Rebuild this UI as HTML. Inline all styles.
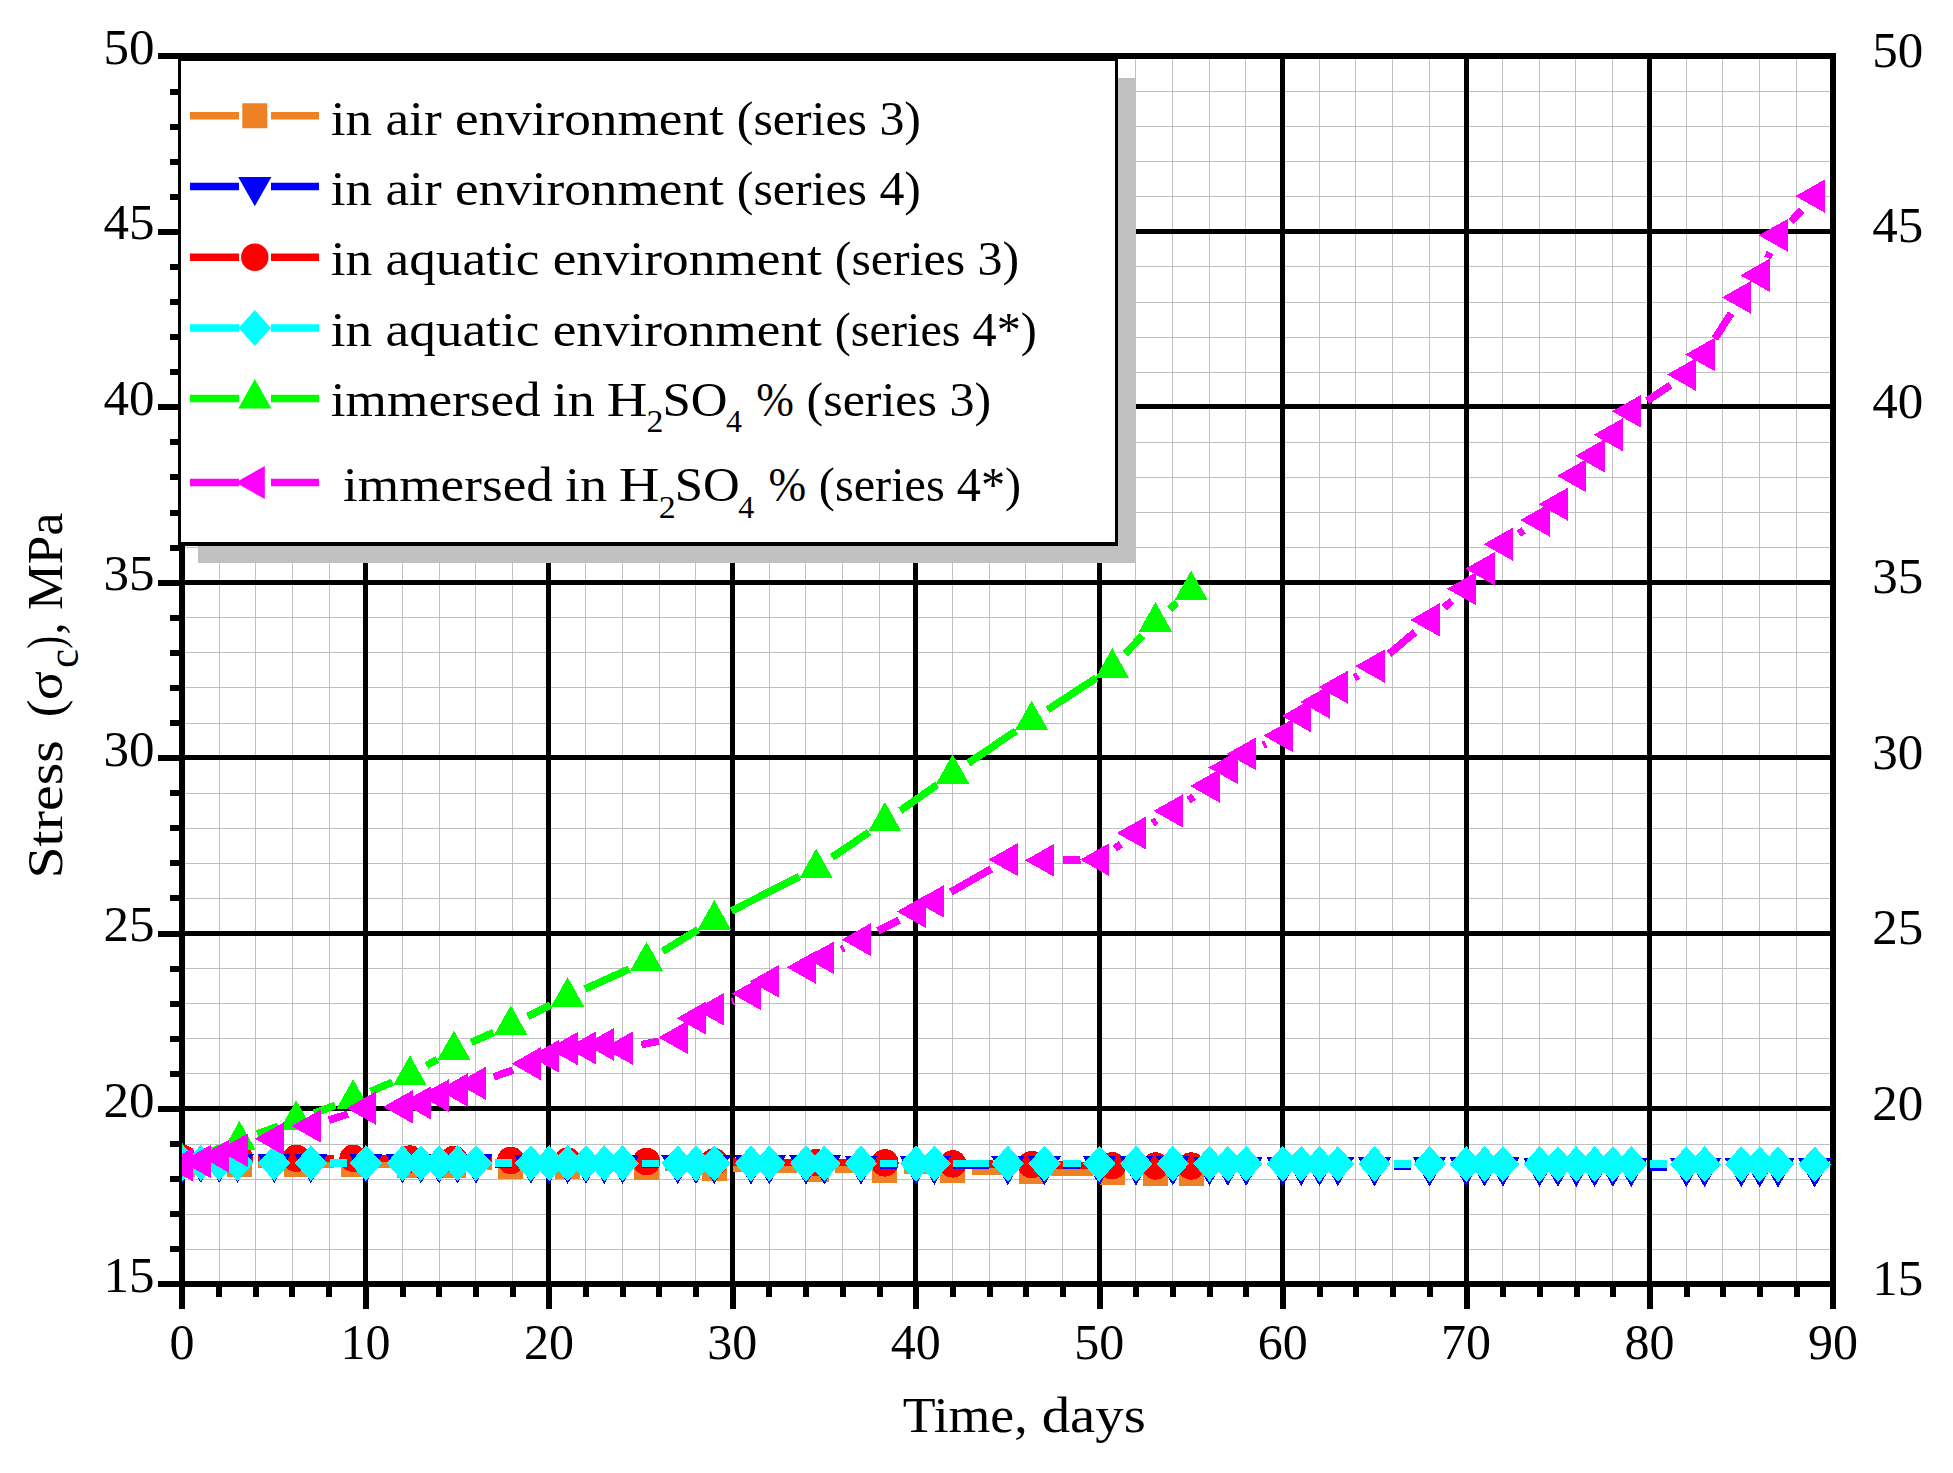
<!DOCTYPE html><html><head><meta charset="utf-8"><title>Stress vs time</title>
<style>html,body{margin:0;padding:0;background:#fff}svg{display:block}text{font-family:"Liberation Serif",serif;fill:#000}</style></head><body>
<svg width="1953" height="1473" viewBox="0 0 1953 1473">
<rect width="1953" height="1473" fill="#fff"/>
<path d="M219.5 56V1284M255.5 56V1284M292.5 56V1284M329.5 56V1284M402.5 56V1284M439.5 56V1284M475.5 56V1284M512.5 56V1284M585.5 56V1284M622.5 56V1284M659.5 56V1284M695.5 56V1284M769.5 56V1284M805.5 56V1284M842.5 56V1284M879.5 56V1284M952.5 56V1284M989.5 56V1284M1025.5 56V1284M1062.5 56V1284M1135.5 56V1284M1172.5 56V1284M1209.5 56V1284M1245.5 56V1284M1319.5 56V1284M1355.5 56V1284M1392.5 56V1284M1429.5 56V1284M1502.5 56V1284M1539.5 56V1284M1575.5 56V1284M1612.5 56V1284M1686.5 56V1284M1722.5 56V1284M1759.5 56V1284M1796.5 56V1284M182 1249.5H1833M182 1214.5H1833M182 1179.5H1833M182 1144.5H1833M182 1073.5H1833M182 1038.5H1833M182 1003.5H1833M182 968.5H1833M182 898.5H1833M182 863.5H1833M182 828.5H1833M182 793.5H1833M182 723.5H1833M182 687.5H1833M182 652.5H1833M182 617.5H1833M182 547.5H1833M182 512.5H1833M182 477.5H1833M182 442.5H1833M182 372.5H1833M182 337.5H1833M182 302.5H1833M182 266.5H1833M182 196.5H1833M182 161.5H1833M182 126.5H1833M182 91.5H1833" stroke="#c0c0c0" stroke-width="1" fill="none"/>
<path d="M365.5 56V1284M548.5 56V1284M732.5 56V1284M915.5 56V1284M1099.5 56V1284M1282.5 56V1284M1466.5 56V1284M1649.5 56V1284M182 1108.5H1833M182 933.5H1833M182 757.5H1833M182 582.5H1833M182 406.5H1833M182 231.5H1833" stroke="#000" stroke-width="5" fill="none"/>
<path d="M182 56H1833V1284H182Z" stroke="#000" stroke-width="6" fill="none" stroke-linejoin="miter"/>
<path d="M158 1284H182M170 1249H182M170 1214H182M170 1179H182M170 1144H182M158 1109H182M170 1074H182M170 1039H182M170 1004H182M170 969H182M158 934H182M170 898H182M170 863H182M170 828H182M170 793H182M158 758H182M170 723H182M170 688H182M170 653H182M170 618H182M158 583H182M170 548H182M170 513H182M170 477H182M170 442H182M158 407H182M170 372H182M170 337H182M170 302H182M170 267H182M158 232H182M170 197H182M170 162H182M170 127H182M170 92H182M158 56H182M182 1284V1309M219 1284V1297M256 1284V1297M292 1284V1297M329 1284V1297M366 1284V1309M403 1284V1297M439 1284V1297M476 1284V1297M513 1284V1297M549 1284V1309M586 1284V1297M623 1284V1297M659 1284V1297M696 1284V1297M733 1284V1309M769 1284V1297M806 1284V1297M843 1284V1297M880 1284V1297M916 1284V1309M953 1284V1297M990 1284V1297M1026 1284V1297M1063 1284V1297M1100 1284V1309M1136 1284V1297M1173 1284V1297M1210 1284V1297M1246 1284V1297M1283 1284V1309M1320 1284V1297M1356 1284V1297M1393 1284V1297M1430 1284V1297M1467 1284V1309M1503 1284V1297M1540 1284V1297M1577 1284V1297M1613 1284V1297M1650 1284V1309M1687 1284V1297M1723 1284V1297M1760 1284V1297M1797 1284V1297M1833 1284V1309" stroke="#000" stroke-width="6" fill="none"/>
<clipPath id="c"><rect x="182" y="53" width="1654" height="1234"/></clipPath>
<g clip-path="url(#c)" shape-rendering="crispEdges">
<path d="M201.5 1164.3L220.4 1164.3M258.4 1164.4L277.2 1164.5M315.2 1164.5L334.1 1164.4M372.1 1164.5L390.9 1164.7M428.9 1165.1L434.9 1165.2M472.9 1165.6L491.8 1165.8M529.8 1166.1L548.6 1166.3M586.6 1166.5L627.5 1166.9M665.5 1167.4L695.3 1167.8M733.3 1168.3L797.1 1169.0M835.1 1169.5L865.9 1169.9M903.9 1170.4L933.7 1170.7M971.7 1171.1L1012.6 1171.5M1050.6 1171.9L1093.3 1172.4M1131.3 1172.8L1136.4 1172.9" stroke="#ee8026" stroke-width="7.5" fill="none"/>
<path d="M170.0 1151.8h25v25h-25zM226.9 1151.8h25v25h-25zM283.7 1152.1h25v25h-25zM340.6 1151.8h25v25h-25zM397.4 1152.5h25v25h-25zM441.4 1152.8h25v25h-25zM498.3 1153.5h25v25h-25zM555.1 1153.9h25v25h-25zM634.0 1154.6h25v25h-25zM701.8 1155.6h25v25h-25zM803.6 1156.7h25v25h-25zM872.4 1157.7h25v25h-25zM940.2 1158.4h25v25h-25zM1019.1 1159.1h25v25h-25zM1099.8 1160.2h25v25h-25zM1142.9 1160.5h25v25h-25zM1178.6 1160.9h25v25h-25z" fill="#ee8026"/>
<path d="M201.5 1158.3L220.4 1158.3M258.4 1158.3L277.2 1158.3M315.2 1158.3L334.1 1158.3M372.1 1158.5L390.9 1158.8M428.9 1159.2L434.9 1159.2M472.9 1159.7L491.8 1160.1M529.8 1160.6L548.6 1160.9M586.6 1161.2L627.5 1161.4M665.5 1161.6L695.3 1161.7M733.3 1161.9L797.1 1162.4M835.1 1162.6L865.9 1162.8M903.9 1163.2L933.7 1163.6M971.7 1164.1L1012.6 1164.4M1050.6 1164.9L1093.3 1165.4M1131.3 1165.8L1136.4 1165.9" stroke="#ff0000" stroke-width="7.5" fill="none"/>
<path d="M168.8 1158.3a13.7 13.7 0 1 0 27.4 0a13.7 13.7 0 1 0 -27.4 0zM225.7 1158.3a13.7 13.7 0 1 0 27.4 0a13.7 13.7 0 1 0 -27.4 0zM282.5 1158.3a13.7 13.7 0 1 0 27.4 0a13.7 13.7 0 1 0 -27.4 0zM339.4 1158.3a13.7 13.7 0 1 0 27.4 0a13.7 13.7 0 1 0 -27.4 0zM396.2 1159.0a13.7 13.7 0 1 0 27.4 0a13.7 13.7 0 1 0 -27.4 0zM440.2 1159.4a13.7 13.7 0 1 0 27.4 0a13.7 13.7 0 1 0 -27.4 0zM497.1 1160.4a13.7 13.7 0 1 0 27.4 0a13.7 13.7 0 1 0 -27.4 0zM553.9 1161.1a13.7 13.7 0 1 0 27.4 0a13.7 13.7 0 1 0 -27.4 0zM632.8 1161.5a13.7 13.7 0 1 0 27.4 0a13.7 13.7 0 1 0 -27.4 0zM700.6 1161.8a13.7 13.7 0 1 0 27.4 0a13.7 13.7 0 1 0 -27.4 0zM802.4 1162.5a13.7 13.7 0 1 0 27.4 0a13.7 13.7 0 1 0 -27.4 0zM871.2 1162.9a13.7 13.7 0 1 0 27.4 0a13.7 13.7 0 1 0 -27.4 0zM939.0 1163.9a13.7 13.7 0 1 0 27.4 0a13.7 13.7 0 1 0 -27.4 0zM1017.9 1164.6a13.7 13.7 0 1 0 27.4 0a13.7 13.7 0 1 0 -27.4 0zM1098.6 1165.7a13.7 13.7 0 1 0 27.4 0a13.7 13.7 0 1 0 -27.4 0zM1141.7 1166.0a13.7 13.7 0 1 0 27.4 0a13.7 13.7 0 1 0 -27.4 0zM1177.4 1166.0a13.7 13.7 0 1 0 27.4 0a13.7 13.7 0 1 0 -27.4 0z" fill="#ff0000"/>
<path d="M200.2 1155.9L221.7 1147.4M257.2 1133.9L278.3 1126.2M314.0 1113.2L335.2 1105.3M370.6 1091.4L392.4 1082.2M426.4 1065.5L437.4 1059.3M471.3 1042.3L493.4 1032.5M527.8 1016.3L550.6 1005.1M585.0 988.9L629.1 969.1M662.7 951.4L698.1 929.5M731.3 911.0L799.2 876.6M831.8 857.4L869.2 832.1M900.4 810.5L937.2 784.7M968.4 763.1L1015.9 730.8M1047.5 709.8L1096.4 677.9M1125.3 653.7L1142.4 635.5M1169.6 609.1L1176.9 602.7" stroke="#00ff00" stroke-width="7.5" fill="none"/>
<path d="M165.9 1172.9h33.2L182.5 1143.4zM222.8 1150.4h33.2L239.4 1120.9zM279.6 1129.7h33.2L296.2 1100.2zM336.5 1108.7h33.2L353.1 1079.2zM393.3 1084.9h33.2L409.9 1055.4zM437.3 1060.0h33.2L453.9 1030.5zM494.2 1034.8h33.2L510.8 1005.3zM551.0 1006.7h33.2L567.6 977.2zM629.9 971.3h33.2L646.5 941.8zM697.7 929.6h33.2L714.3 900.1zM799.5 878.1h33.2L816.1 848.6zM868.3 831.4h33.2L884.9 801.9zM936.1 783.8h33.2L952.7 754.3zM1015.0 730.1h33.2L1031.6 700.6zM1095.7 677.6h33.2L1112.3 648.1zM1138.8 631.6h33.2L1155.4 602.1zM1174.5 600.1h33.2L1191.1 570.6z" fill="#00ff00"/>
<path d="M329.9 1163.5L346.9 1163.5M494.9 1164.0L511.9 1164.0M641.6 1164.4L658.7 1164.4M880.0 1165.1L897.1 1165.1M953.4 1165.3L988.8 1165.4M1063.4 1165.6L1080.5 1165.7M1393.5 1166.6L1410.6 1166.6M1650.3 1167.3L1667.3 1167.4" stroke="#0000ff" stroke-width="7.5" fill="none"/>
<path d="M165.9 1153.5h33.2L182.5 1182.8zM184.2 1153.6h33.2L200.8 1182.9zM202.6 1153.6h33.2L219.2 1182.9zM220.9 1153.7h33.2L237.5 1183.0zM257.6 1153.8h33.2L274.2 1183.1zM294.3 1153.9h33.2L310.9 1183.2zM349.3 1154.1h33.2L365.9 1183.4zM386.0 1154.2h33.2L402.6 1183.5zM404.3 1154.2h33.2L420.9 1183.5zM422.6 1154.3h33.2L439.2 1183.6zM441.0 1154.3h33.2L457.6 1183.6zM459.3 1154.4h33.2L475.9 1183.7zM514.3 1154.6h33.2L530.9 1183.9zM532.7 1154.6h33.2L549.3 1183.9zM551.0 1154.7h33.2L567.6 1184.0zM569.4 1154.7h33.2L586.0 1184.0zM587.7 1154.8h33.2L604.3 1184.1zM606.0 1154.8h33.2L622.6 1184.1zM661.1 1155.0h33.2L677.7 1184.3zM679.4 1155.0h33.2L696.0 1184.3zM697.7 1155.1h33.2L714.3 1184.4zM734.4 1155.2h33.2L751.0 1184.5zM752.7 1155.3h33.2L769.3 1184.6zM789.4 1155.4h33.2L806.0 1184.7zM807.8 1155.4h33.2L824.4 1184.7zM844.4 1155.5h33.2L861.0 1184.8zM899.5 1155.7h33.2L916.1 1185.0zM917.8 1155.7h33.2L934.4 1185.0zM991.2 1156.0h33.2L1007.8 1185.3zM1027.8 1156.1h33.2L1044.4 1185.4zM1082.8 1156.2h33.2L1099.4 1185.5zM1119.5 1156.3h33.2L1136.1 1185.6zM1156.2 1156.4h33.2L1172.8 1185.7zM1192.9 1156.5h33.2L1209.5 1185.8zM1211.2 1156.6h33.2L1227.8 1185.9zM1229.6 1156.6h33.2L1246.2 1185.9zM1266.2 1156.8h33.2L1282.8 1186.1zM1284.6 1156.8h33.2L1301.2 1186.1zM1302.9 1156.9h33.2L1319.5 1186.2zM1321.3 1156.9h33.2L1337.9 1186.2zM1357.9 1157.0h33.2L1374.5 1186.3zM1413.0 1157.2h33.2L1429.6 1186.5zM1449.6 1157.3h33.2L1466.2 1186.6zM1468.0 1157.3h33.2L1484.6 1186.6zM1486.3 1157.4h33.2L1502.9 1186.7zM1523.0 1157.5h33.2L1539.6 1186.8zM1541.3 1157.6h33.2L1557.9 1186.9zM1559.7 1157.6h33.2L1576.3 1186.9zM1578.0 1157.7h33.2L1594.6 1187.0zM1596.3 1157.7h33.2L1612.9 1187.0zM1614.7 1157.8h33.2L1631.3 1187.1zM1669.7 1157.9h33.2L1686.3 1187.2zM1688.0 1158.0h33.2L1704.6 1187.3zM1724.7 1158.1h33.2L1741.3 1187.4zM1743.1 1158.2h33.2L1759.7 1187.5zM1761.4 1158.2h33.2L1778.0 1187.5zM1798.1 1158.3h33.2L1814.7 1187.6z" fill="#0000ff"/>
<path d="M329.9 1163.0L346.9 1163.0M494.9 1163.1L511.9 1163.1M641.6 1163.3L658.7 1163.3M880.0 1163.5L897.1 1163.5M953.4 1163.5L988.8 1163.6M1063.4 1163.6L1080.5 1163.6M1393.5 1163.9L1410.6 1163.9M1650.3 1164.1L1667.3 1164.1" stroke="#00ffff" stroke-width="7.5" fill="none"/>
<path d="M182.5 1144.9L198.7 1162.9L182.5 1180.9L166.3 1162.9zM200.8 1144.9L217.0 1162.9L200.8 1180.9L184.6 1162.9zM219.2 1144.9L235.4 1162.9L219.2 1180.9L203.0 1162.9zM237.5 1144.9L253.7 1162.9L237.5 1180.9L221.3 1162.9zM274.2 1144.9L290.4 1162.9L274.2 1180.9L258.0 1162.9zM310.9 1145.0L327.1 1163.0L310.9 1181.0L294.7 1163.0zM365.9 1145.0L382.1 1163.0L365.9 1181.0L349.7 1163.0zM402.6 1145.1L418.8 1163.1L402.6 1181.1L386.4 1163.1zM420.9 1145.1L437.1 1163.1L420.9 1181.1L404.7 1163.1zM439.2 1145.1L455.4 1163.1L439.2 1181.1L423.0 1163.1zM457.6 1145.1L473.8 1163.1L457.6 1181.1L441.4 1163.1zM475.9 1145.1L492.1 1163.1L475.9 1181.1L459.7 1163.1zM530.9 1145.2L547.1 1163.2L530.9 1181.2L514.7 1163.2zM549.3 1145.2L565.5 1163.2L549.3 1181.2L533.1 1163.2zM567.6 1145.2L583.8 1163.2L567.6 1181.2L551.4 1163.2zM586.0 1145.2L602.2 1163.2L586.0 1181.2L569.8 1163.2zM604.3 1145.2L620.5 1163.2L604.3 1181.2L588.1 1163.2zM622.6 1145.2L638.8 1163.2L622.6 1181.2L606.4 1163.2zM677.7 1145.3L693.9 1163.3L677.7 1181.3L661.5 1163.3zM696.0 1145.3L712.2 1163.3L696.0 1181.3L679.8 1163.3zM714.3 1145.3L730.5 1163.3L714.3 1181.3L698.1 1163.3zM751.0 1145.4L767.2 1163.4L751.0 1181.4L734.8 1163.4zM769.3 1145.4L785.5 1163.4L769.3 1181.4L753.1 1163.4zM806.0 1145.4L822.2 1163.4L806.0 1181.4L789.8 1163.4zM824.4 1145.4L840.6 1163.4L824.4 1181.4L808.2 1163.4zM861.0 1145.4L877.2 1163.4L861.0 1181.4L844.8 1163.4zM916.1 1145.5L932.3 1163.5L916.1 1181.5L899.9 1163.5zM934.4 1145.5L950.6 1163.5L934.4 1181.5L918.2 1163.5zM1007.8 1145.6L1024.0 1163.6L1007.8 1181.6L991.6 1163.6zM1044.4 1145.6L1060.6 1163.6L1044.4 1181.6L1028.2 1163.6zM1099.4 1145.7L1115.6 1163.7L1099.4 1181.7L1083.2 1163.7zM1136.1 1145.7L1152.3 1163.7L1136.1 1181.7L1119.9 1163.7zM1172.8 1145.7L1189.0 1163.7L1172.8 1181.7L1156.6 1163.7zM1209.5 1145.7L1225.7 1163.7L1209.5 1181.7L1193.3 1163.7zM1227.8 1145.8L1244.0 1163.8L1227.8 1181.8L1211.6 1163.8zM1246.2 1145.8L1262.4 1163.8L1246.2 1181.8L1230.0 1163.8zM1282.8 1145.8L1299.0 1163.8L1282.8 1181.8L1266.6 1163.8zM1301.2 1145.8L1317.4 1163.8L1301.2 1181.8L1285.0 1163.8zM1319.5 1145.8L1335.7 1163.8L1319.5 1181.8L1303.3 1163.8zM1337.9 1145.9L1354.1 1163.9L1337.9 1181.9L1321.7 1163.9zM1374.5 1145.9L1390.7 1163.9L1374.5 1181.9L1358.3 1163.9zM1429.6 1145.9L1445.8 1163.9L1429.6 1181.9L1413.4 1163.9zM1466.2 1146.0L1482.4 1164.0L1466.2 1182.0L1450.0 1164.0zM1484.6 1146.0L1500.8 1164.0L1484.6 1182.0L1468.4 1164.0zM1502.9 1146.0L1519.1 1164.0L1502.9 1182.0L1486.7 1164.0zM1539.6 1146.0L1555.8 1164.0L1539.6 1182.0L1523.4 1164.0zM1557.9 1146.0L1574.1 1164.0L1557.9 1182.0L1541.7 1164.0zM1576.3 1146.1L1592.5 1164.1L1576.3 1182.1L1560.1 1164.1zM1594.6 1146.1L1610.8 1164.1L1594.6 1182.1L1578.4 1164.1zM1612.9 1146.1L1629.1 1164.1L1612.9 1182.1L1596.7 1164.1zM1631.3 1146.1L1647.5 1164.1L1631.3 1182.1L1615.1 1164.1zM1686.3 1146.2L1702.5 1164.2L1686.3 1182.2L1670.1 1164.2zM1704.6 1146.2L1720.8 1164.2L1704.6 1182.2L1688.4 1164.2zM1741.3 1146.2L1757.5 1164.2L1741.3 1182.2L1725.1 1164.2zM1759.7 1146.2L1775.9 1164.2L1759.7 1182.2L1743.5 1164.2zM1778.0 1146.2L1794.2 1164.2L1778.0 1182.2L1761.8 1164.2zM1814.7 1146.3L1830.9 1164.3L1814.7 1182.3L1798.5 1164.3z" fill="#00ffff"/>
<path d="M328.9 1120.2L347.8 1114.1M493.8 1076.9L513.0 1070.0M641.3 1044.6L659.0 1041.1M731.8 1001.8L733.6 1001.1M841.4 949.3L844.0 948.0M878.0 930.9L899.1 920.2M950.9 892.0L991.2 869.0M1063.4 860.1L1080.5 859.9M1114.8 848.5L1120.8 844.2M1152.4 823.2L1156.5 820.7M1188.5 800.3L1193.8 796.7M1263.2 745.3L1265.8 744.0M1354.3 677.7L1358.1 675.6M1389.1 653.9L1415.0 632.1M1444.0 607.6L1451.8 601.0M1518.8 533.7L1523.7 530.4M1647.1 400.7L1670.5 385.1M1714.9 338.5L1731.1 313.4M1767.6 258.0L1770.1 252.6M1791.0 221.5L1801.7 210.0" stroke="#ff00ff" stroke-width="7.5" fill="none"/>
<path d="M192.5 1148.0v33.2L163.2 1164.6zM210.8 1144.9v33.2L181.5 1161.5zM229.2 1139.6v33.2L199.9 1156.2zM247.5 1133.6v33.2L218.2 1150.2zM284.2 1122.1v33.2L254.9 1138.7zM320.9 1109.5v33.2L291.6 1126.1zM375.9 1091.6v33.2L346.6 1108.2zM412.6 1090.2v33.2L383.3 1106.8zM430.9 1086.3v33.2L401.6 1102.9zM449.2 1079.0v33.2L419.9 1095.6zM467.6 1073.4v33.2L438.3 1090.0zM485.9 1066.7v33.2L456.6 1083.3zM540.9 1047.1v33.2L511.6 1063.7zM559.3 1039.7v33.2L530.0 1056.3zM577.6 1032.0v33.2L548.3 1048.6zM596.0 1031.3v33.2L566.7 1047.9zM614.3 1027.8v33.2L585.0 1044.4zM632.6 1031.6v33.2L603.3 1048.2zM687.7 1020.8v33.2L658.4 1037.4zM706.0 1001.5v33.2L676.7 1018.1zM724.3 992.7v33.2L695.0 1009.3zM761.0 977.0v33.2L731.7 993.6zM779.3 964.7v33.2L750.0 981.3zM816.0 950.7v33.2L786.7 967.3zM834.4 941.2v33.2L805.1 957.8zM871.0 923.0v33.2L841.7 939.6zM926.1 894.9v33.2L896.8 911.5zM944.4 884.8v33.2L915.1 901.4zM1017.8 843.0v33.2L988.5 859.6zM1054.4 843.7v33.2L1025.1 860.3zM1109.4 843.0v33.2L1080.1 859.6zM1146.1 816.4v33.2L1116.8 833.0zM1182.8 794.3v33.2L1153.5 810.9zM1219.5 769.4v33.2L1190.2 786.0zM1237.8 750.9v33.2L1208.5 767.5zM1256.2 737.2v33.2L1226.9 753.8zM1292.8 719.0v33.2L1263.5 735.6zM1311.2 699.3v33.2L1281.9 715.9zM1329.5 685.3v33.2L1300.2 701.9zM1347.9 670.6v33.2L1318.6 687.2zM1384.5 649.5v33.2L1355.2 666.1zM1439.6 603.3v33.2L1410.3 619.9zM1476.2 572.1v33.2L1446.9 588.7zM1494.6 552.1v33.2L1465.3 568.7zM1512.9 527.6v33.2L1483.6 544.2zM1549.6 503.4v33.2L1520.3 520.0zM1567.9 487.6v33.2L1538.6 504.2zM1586.3 459.2v33.2L1557.0 475.8zM1604.6 439.2v33.2L1575.3 455.8zM1622.9 418.2v33.2L1593.6 434.8zM1641.3 394.7v33.2L1612.0 411.3zM1696.3 357.9v33.2L1667.0 374.5zM1714.6 337.9v33.2L1685.3 354.5zM1751.3 280.8v33.2L1722.0 297.4zM1769.7 258.7v33.2L1740.4 275.3zM1788.0 218.7v33.2L1758.7 235.3zM1824.7 179.5v33.2L1795.4 196.1z" fill="#ff00ff"/>
</g>
<text x="154.6" y="1291.9" font-size="51" text-anchor="end">15</text>
<text x="1897.8" y="1294.9" font-size="51" text-anchor="middle">15</text>
<text x="154.6" y="1116.5" font-size="51" text-anchor="end">20</text>
<text x="1897.8" y="1119.5" font-size="51" text-anchor="middle">20</text>
<text x="154.6" y="941.1" font-size="51" text-anchor="end">25</text>
<text x="1897.8" y="944.1" font-size="51" text-anchor="middle">25</text>
<text x="154.6" y="765.7" font-size="51" text-anchor="end">30</text>
<text x="1897.8" y="768.7" font-size="51" text-anchor="middle">30</text>
<text x="154.6" y="590.2" font-size="51" text-anchor="end">35</text>
<text x="1897.8" y="593.2" font-size="51" text-anchor="middle">35</text>
<text x="154.6" y="414.8" font-size="51" text-anchor="end">40</text>
<text x="1897.8" y="417.8" font-size="51" text-anchor="middle">40</text>
<text x="154.6" y="239.4" font-size="51" text-anchor="end">45</text>
<text x="1897.8" y="242.4" font-size="51" text-anchor="middle">45</text>
<text x="154.6" y="64.0" font-size="51" text-anchor="end">50</text>
<text x="1897.8" y="67.0" font-size="51" text-anchor="middle">50</text>
<text x="182.0" y="1359.3" font-size="50" text-anchor="middle">0</text>
<text x="365.5" y="1359.3" font-size="50" text-anchor="middle">10</text>
<text x="548.9" y="1359.3" font-size="50" text-anchor="middle">20</text>
<text x="732.3" y="1359.3" font-size="50" text-anchor="middle">30</text>
<text x="915.8" y="1359.3" font-size="50" text-anchor="middle">40</text>
<text x="1099.2" y="1359.3" font-size="50" text-anchor="middle">50</text>
<text x="1282.7" y="1359.3" font-size="50" text-anchor="middle">60</text>
<text x="1466.1" y="1359.3" font-size="50" text-anchor="middle">70</text>
<text x="1649.6" y="1359.3" font-size="50" text-anchor="middle">80</text>
<text x="1833.0" y="1359.3" font-size="50" text-anchor="middle">90</text>
<rect x="198" y="78" width="938" height="485" fill="#c0c0c0"/>
<rect x="178" y="57" width="940" height="489" fill="#000"/>
<rect x="181" y="61" width="934" height="481" fill="#fff"/>
<path d="M190 115.7H239M271 115.7H319" stroke="#ee8026" stroke-width="7.5" fill="none"/>
<path d="M242.3 103.2h25v25h-25z" fill="#ee8026"/>
<path d="M190 186.4H239M271 186.4H319" stroke="#0000ff" stroke-width="7.5" fill="none"/>
<path d="M238.2 176.9h33.2L254.8 206.2z" fill="#0000ff"/>
<path d="M190 257.3H239M271 257.3H319" stroke="#ff0000" stroke-width="7.5" fill="none"/>
<path d="M241.1 257.3a13.7 13.7 0 1 0 27.4 0a13.7 13.7 0 1 0 -27.4 0z" fill="#ff0000"/>
<path d="M190 328H239M271 328H319" stroke="#00ffff" stroke-width="7.5" fill="none"/>
<path d="M254.8 310.0L271.0 328.0L254.8 346.0L238.6 328.0z" fill="#00ffff"/>
<path d="M190 398.4H239M271 398.4H319" stroke="#00ff00" stroke-width="7.5" fill="none"/>
<path d="M238.2 408.4h33.2L254.8 378.9z" fill="#00ff00"/>
<path d="M190 482.5H239M271 482.5H319" stroke="#ff00ff" stroke-width="7.5" fill="none"/>
<path d="M264.8 465.9v33.2L235.5 482.5z" fill="#ff00ff"/>
<text font-size="50"><tspan x="902.70" y="1432.00" textLength="124.99" lengthAdjust="spacingAndGlyphs">Time,</tspan> <tspan x="1041.66" y="1432.00" textLength="104.09" lengthAdjust="spacingAndGlyphs">days</tspan></text>
<text transform="translate(61.5 875.1) rotate(-90)" font-size="50"><tspan x="-3.47" y="0.00" textLength="138.26" lengthAdjust="spacingAndGlyphs">Stress</tspan> <tspan x="157.89" y="0.00" textLength="17.60" lengthAdjust="spacingAndGlyphs">(</tspan><tspan x="175.03" y="0.00" textLength="28.92" lengthAdjust="spacingAndGlyphs">σ</tspan><tspan x="207.15" y="16.50" textLength="18.97" lengthAdjust="spacingAndGlyphs" font-size="45">c</tspan><tspan x="226.44" y="0.00" textLength="12.73" lengthAdjust="spacingAndGlyphs">)</tspan><tspan x="240.54" y="0.00" textLength="11.94" lengthAdjust="spacingAndGlyphs">,</tspan> <tspan x="265.17" y="0.00" textLength="97.23" lengthAdjust="spacingAndGlyphs">MPa</tspan></text>
<text font-size="49"><tspan x="330.81" y="134.50" textLength="393.07" lengthAdjust="spacingAndGlyphs">in air environment</tspan> <tspan x="736.87" y="134.50" textLength="184.07" lengthAdjust="spacingAndGlyphs">(series 3)</tspan></text>
<text font-size="49"><tspan x="330.81" y="205.20" textLength="393.07" lengthAdjust="spacingAndGlyphs">in air environment</tspan> <tspan x="736.87" y="205.20" textLength="184.07" lengthAdjust="spacingAndGlyphs">(series 4)</tspan></text>
<text font-size="49"><tspan x="330.81" y="275.40" textLength="491.07" lengthAdjust="spacingAndGlyphs">in aquatic environment</tspan> <tspan x="834.76" y="275.40" textLength="184.48" lengthAdjust="spacingAndGlyphs">(series 3)</tspan></text>
<text font-size="49"><tspan x="330.81" y="346.10" textLength="491.07" lengthAdjust="spacingAndGlyphs">in aquatic environment</tspan> <tspan x="834.83" y="346.10" textLength="201.96" lengthAdjust="spacingAndGlyphs">(series 4*)</tspan></text>
<text font-size="49"><tspan x="330.81" y="415.90" textLength="209.93" lengthAdjust="spacingAndGlyphs">immersed</tspan> <tspan x="552.79" y="415.90" textLength="42.16" lengthAdjust="spacingAndGlyphs">in</tspan> <tspan x="606.65" y="415.90" textLength="40.64" lengthAdjust="spacingAndGlyphs">H</tspan><tspan x="646.64" y="432.10" textLength="16.91" lengthAdjust="spacingAndGlyphs" font-size="32">2</tspan><tspan x="662.49" y="415.90" textLength="64.95" lengthAdjust="spacingAndGlyphs">SO</tspan><tspan x="726.00" y="432.10" textLength="16.00" lengthAdjust="spacingAndGlyphs" font-size="32">4</tspan> <tspan x="756.28" y="415.90" textLength="37.68" lengthAdjust="spacingAndGlyphs">%</tspan> <tspan x="806.56" y="415.90" textLength="184.58" lengthAdjust="spacingAndGlyphs">(series 3)</tspan></text>
<text font-size="49"><tspan x="343.01" y="501.30" textLength="209.93" lengthAdjust="spacingAndGlyphs">immersed</tspan> <tspan x="564.99" y="501.30" textLength="42.16" lengthAdjust="spacingAndGlyphs">in</tspan> <tspan x="618.85" y="501.30" textLength="40.64" lengthAdjust="spacingAndGlyphs">H</tspan><tspan x="658.84" y="517.50" textLength="16.91" lengthAdjust="spacingAndGlyphs" font-size="32">2</tspan><tspan x="674.69" y="501.30" textLength="64.95" lengthAdjust="spacingAndGlyphs">SO</tspan><tspan x="738.20" y="517.50" textLength="16.00" lengthAdjust="spacingAndGlyphs" font-size="32">4</tspan> <tspan x="768.48" y="501.30" textLength="37.68" lengthAdjust="spacingAndGlyphs">%</tspan> <tspan x="818.83" y="501.30" textLength="202.37" lengthAdjust="spacingAndGlyphs">(series 4*)</tspan></text>
</svg></body></html>
